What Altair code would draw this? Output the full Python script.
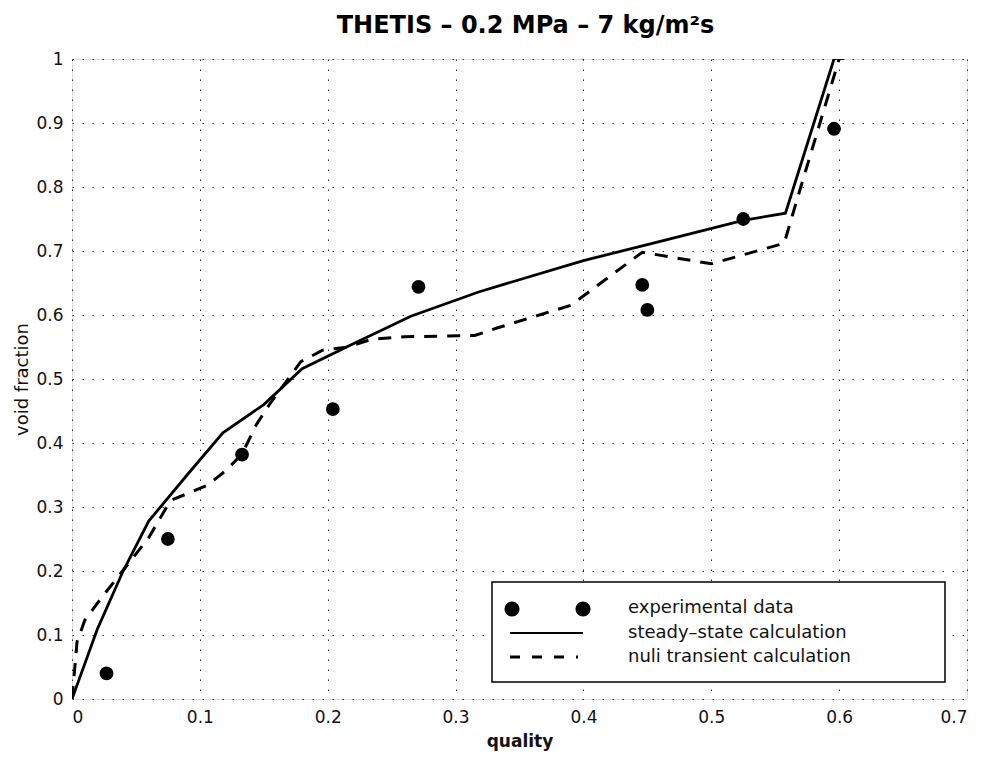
import altair as alt
import pandas as pd

# experimental data
exp_x = [0.027, 0.075, 0.133, 0.204, 0.271, 0.446, 0.450, 0.525, 0.596]
exp_y = [0.040, 0.250, 0.382, 0.453, 0.644, 0.647, 0.608, 0.750, 0.891]

# steady-state calculation
ss_x = [0.0, 0.020, 0.040, 0.060, 0.090, 0.118, 0.150, 0.180, 0.220, 0.265, 0.318, 0.400, 0.450, 0.525, 0.558, 0.596, 0.620]
ss_y = [0.0, 0.110, 0.200, 0.278, 0.350, 0.416, 0.460, 0.516, 0.555, 0.598, 0.636, 0.685, 0.710, 0.748, 0.759, 1.000, 1.010]

# null transient calculation
nt_x = [0.0, 0.004, 0.010, 0.023, 0.060, 0.077, 0.106, 0.121, 0.133, 0.144, 0.155, 0.179, 0.196, 0.216, 0.234, 0.260, 0.315, 0.333, 0.390, 0.446, 0.500, 0.557, 0.570, 0.585, 0.600, 0.620]
nt_y = [0.0, 0.090, 0.123, 0.158, 0.252, 0.310, 0.334, 0.358, 0.383, 0.428, 0.462, 0.527, 0.545, 0.550, 0.562, 0.566, 0.568, 0.580, 0.615, 0.698, 0.680, 0.712, 0.800, 0.900, 1.000, 1.010]

x_ticks = [0, 0.1, 0.2, 0.3, 0.4, 0.5, 0.6, 0.7]
y_ticks = [0, 0.1, 0.2, 0.3, 0.4, 0.5, 0.6, 0.7, 0.8, 0.9, 1]

legend_labels = ["experimental data", "steady\u2013state calculation", "nuli transient calculation"]

exp_df = pd.DataFrame({"x": exp_x, "y": exp_y})
ss_df = pd.DataFrame({"x": ss_x, "y": ss_y, "o": list(range(len(ss_x)))})
nt_df = pd.DataFrame({"x": nt_x, "y": nt_y, "o": list(range(len(nt_x)))})

FONT = "DejaVu Sans"

xs = alt.Scale(domain=[0, 0.7], nice=False, zero=False)
ys = alt.Scale(domain=[0, 1], nice=False, zero=False)

xax = alt.Axis(values=x_ticks, title="quality", grid=True, gridDash=[1.5, 8.5], gridColor="#333",
               gridOpacity=1, tickSize=0, labelPadding=10, domain=False,
               labelFont=FONT, labelFontSize=17, labelColor="#111",
               titleFont=FONT, titleFontSize=17, titleFontWeight="bold", titlePadding=8, titleColor="#111",
               labelExpr="datum.value == 0 ? '0' : format(datum.value, '.1f')")
yax = alt.Axis(values=y_ticks, title="void fraction", grid=True, gridDash=[1.5, 8.5], gridColor="#333",
               gridOpacity=1, tickSize=0, labelPadding=9, domain=False,
               labelFont=FONT, labelFontSize=17, labelColor="#111",
               titleFont=FONT, titleFontSize=18, titleFontWeight="normal", titlePadding=4, titleColor="#111",
               labelExpr="datum.value == 0 ? '0' : datum.value == 1 ? '1' : format(datum.value, '.1f')")

ss = alt.Chart(ss_df).mark_line(color="black", strokeWidth=2.8, clip=True).encode(
    x=alt.X("x:Q", scale=xs, axis=xax), y=alt.Y("y:Q", scale=ys, axis=yax), order="o:Q")
nt = alt.Chart(nt_df).mark_line(color="black", strokeWidth=3, strokeDash=[13, 10], clip=True).encode(
    x=alt.X("x:Q", scale=xs), y=alt.Y("y:Q", scale=ys), order="o:Q")
pts = alt.Chart(exp_df).mark_circle(color="black", opacity=1, size=190, clip=True).encode(
    x=alt.X("x:Q", scale=xs), y=alt.Y("y:Q", scale=ys))

# legend box (drawn manually)
leg_box = alt.Chart(pd.DataFrame({"a": [0]})).mark_rect(fill="white", stroke="black", strokeWidth=1.5).encode(
    x=alt.value(420), x2=alt.value(873), y=alt.value(523), y2=alt.value(623))
leg_dots = alt.Chart(pd.DataFrame({"px": [440, 511]})).mark_circle(color="black", opacity=1, size=230).encode(
    x=alt.X("px:Q", scale=None), y=alt.value(550))
leg_solid = alt.Chart(pd.DataFrame({"a": [0]})).mark_rule(color="black", strokeWidth=2.2).encode(
    x=alt.value(438), x2=alt.value(511), y=alt.value(574))
leg_dash = alt.Chart(pd.DataFrame({"a": [0]})).mark_rule(color="black", strokeWidth=2.8, strokeDash=[10, 12]).encode(
    x=alt.value(438), x2=alt.value(506), y=alt.value(598))
leg_text = alt.Chart(pd.DataFrame({"t": legend_labels, "py": [549, 574, 598]})).mark_text(
    align="left", baseline="middle", font=FONT, fontSize=18, color="#111").encode(
    x=alt.value(556), y=alt.Y("py:Q", scale=None), text="t:N")

chart = alt.layer(ss, nt, pts, leg_box, leg_dots, leg_solid, leg_dash, leg_text).properties(
    width=895, height=640,
    title=alt.Title("THETIS \u2013 0.2 MPa \u2013 7 kg/m\u00b2s", font=FONT, fontSize=24,
                    fontWeight="bold", color="black", offset=12, dx=6),
    autosize=alt.AutoSizeParams(type="none"),
    padding={"left": 64, "top": 51, "right": 12, "bottom": 56},
).configure_view(stroke="black", strokeWidth=1.5).configure(background="white")

chart.save("out.html", embed_options={"renderer": "svg", "actions": False})
